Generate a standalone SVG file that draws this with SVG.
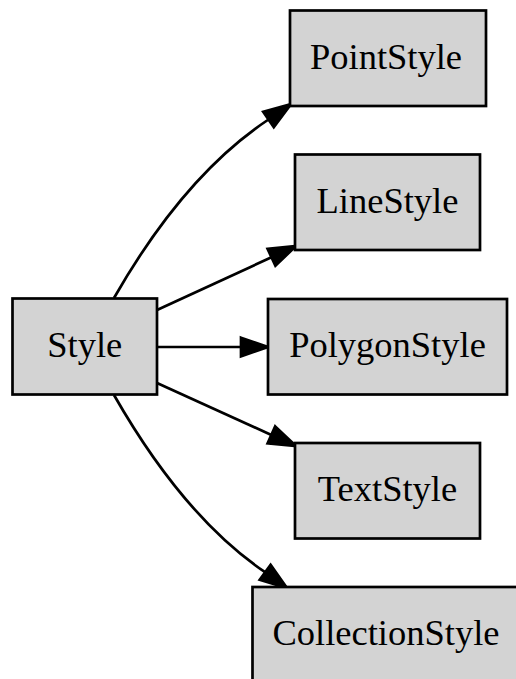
<svg xmlns="http://www.w3.org/2000/svg" width="516" height="679" viewBox="0 0 516 679">
<style>
.node rect{fill:#d3d3d3;stroke:#000;stroke-width:2.7}
.node text{font-family:"Liberation Serif","Times New Roman",serif;font-size:36.5px;text-anchor:middle;fill:#000}
.edge path{fill:none;stroke:#000;stroke-width:2.7}
.edge polygon{fill:#000;stroke:#000;stroke-width:2.7}
</style>
<rect width="516" height="679" fill="#fff"/>
<g id="edges">
<g class="edge"><path d="M114,298 C150,235 200,165 268.5,119.5"/><polygon points="263.2,111.8 291,104 273.8,127.2"/></g>
<g class="edge"><path d="M157,310 L271.5,257.3"/><polygon points="267.6,248.9 296,246 275.4,265.7"/></g>
<g class="edge"><path d="M157,347 L241,347"/><polygon points="241,337.7 268,347 241,356.3"/></g>
<g class="edge"><path d="M157,383 L271.4,434.9"/><polygon points="275.2,426.4 296,446 267.6,443.4"/></g>
<g class="edge"><path d="M114,395 C150,458 200,528 265.1,572.2"/><polygon points="270.6,564.7 287,588 259.7,579.7"/></g>
</g>
<g id="Style" class="node"><rect x="12.5" y="298.5" width="144.5" height="96"/><text x="84.75" y="356.5">Style</text></g>
<g id="PointStyle" class="node"><rect x="290" y="10.5" width="196" height="95.5"/><text x="386" y="68.5">PointStyle</text></g>
<g id="LineStyle" class="node"><rect x="295" y="154.5" width="185" height="95.5"/><text x="387.5" y="212.5">LineStyle</text></g>
<g id="PolygonStyle" class="node"><rect x="268" y="299" width="239" height="95.5"/><text x="387.5" y="356.5">PolygonStyle</text></g>
<g id="TextStyle" class="node"><rect x="295" y="443" width="185" height="95.5"/><text x="387.5" y="501">TextStyle</text></g>
<g id="CollectionStyle" class="node"><rect x="252.5" y="587" width="270" height="96"/><text x="386" y="645">CollectionStyle</text></g>
</svg>
